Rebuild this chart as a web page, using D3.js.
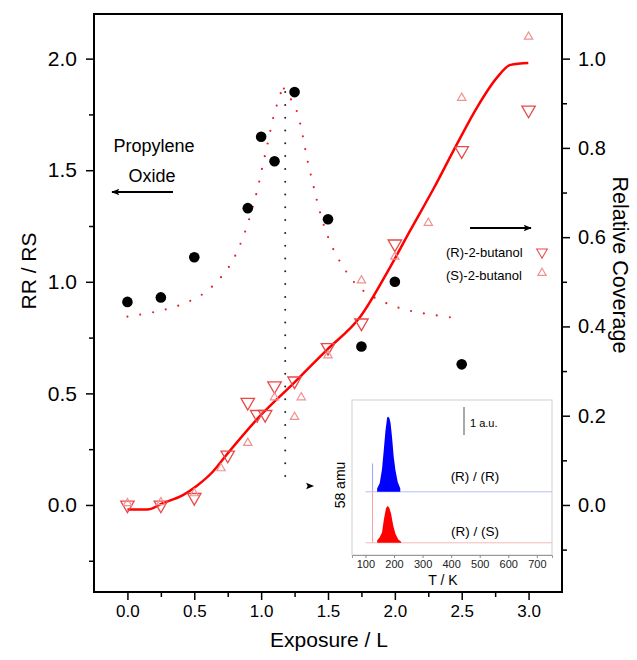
<!DOCTYPE html>
<html>
<head>
<meta charset="utf-8">
<script src="https://cdn.jsdelivr.net/npm/d3@7"></script>
<style>
  body { margin: 0; background: #fff; }
  svg { font-family: Arial, "Liberation Sans", sans-serif; }
</style>
</head>
<body>
<svg width="637" height="660"></svg>
<script>
// ---- data ----
const poX = [0, 0.25, 0.5, 0.9, 1.0, 1.1, 1.25, 1.5, 1.75, 2.0, 2.5];
const poRatio = [0.91, 0.93, 1.11, 1.33, 1.65, 1.54, 1.85, 1.28, 0.71, 1.00, 0.63];

// dotted guide curves (RR/RS)
const riseX = [0.0, 0.195, 0.385, 0.58, 0.75, 0.848, 0.915, 0.968, 1.01, 1.053, 1.095, 1.155];
const riseY = [0.844, 0.864, 0.894, 0.952, 1.059, 1.174, 1.29, 1.404, 1.517, 1.632, 1.746, 1.861];
const fallX = [1.17, 1.26, 1.308, 1.345, 1.39, 1.435, 1.498, 1.59, 1.735, 1.933, 2.123, 2.413];
const fallY = [1.866, 1.775, 1.663, 1.548, 1.433, 1.323, 1.204, 1.09, 0.974, 0.905, 0.869, 0.841];

// coverage fit
const fitX = [0.0, 0.15, 0.265, 0.415, 0.515, 0.64, 0.74, 0.99, 1.24, 1.49, 1.74, 1.965, 2.115, 2.29, 2.465, 2.615, 2.765, 2.865, 2.998];
const fitY = [-0.01, -0.01, 0.004, 0.022, 0.042, 0.075, 0.112, 0.199, 0.272, 0.347, 0.421, 0.533, 0.615, 0.709, 0.809, 0.891, 0.958, 0.986, 0.99];

const rX = [0, 0.25, 0.5, 0.75, 0.9, 0.97, 1.03, 1.1, 1.25, 1.5, 1.75, 2.0, 2.5, 3.0];
const rCov = [0.0, 0.0, 0.017, 0.112, 0.23, 0.203, 0.203, 0.267, 0.278, 0.353, 0.408, 0.585, 0.794, 0.885];
const sX = [0, 0.25, 0.5, 0.7, 0.9, 1.1, 1.25, 1.3, 1.5, 1.75, 2.0, 2.25, 2.5, 3.0];
const sCov = [0.004, 0.006, 0.026, 0.082, 0.139, 0.241, 0.197, 0.241, 0.335, 0.503, 0.556, 0.632, 0.912, 1.049];

// inset TPD traces (58 amu)
const tpdRT = [141, 150, 158, 164, 170, 176, 180, 184, 188, 193, 199, 205, 213, 222];
const tpdRI = [0.12, 0.3, 0.8, 1.45, 2.15, 2.62, 2.65, 2.6, 2.42, 1.94, 1.24, 0.77, 0.35, 0.12];
const tpdST = [141, 150, 158, 165, 172, 178, 183, 190, 197, 205, 215, 225];
const tpdSI = [0.08, 0.2, 0.36, 0.85, 1.22, 1.3, 1.25, 1.02, 0.62, 0.32, 0.12, 0.04];
const tpdOffset = 1.8;
const insetTicks = [100, 200, 300, 400, 500, 600, 700];

const xMajor = [0, 0.5, 1.0, 1.5, 2.0, 2.5, 3.0];
const xMinor = [0.25, 0.75, 1.25, 1.75, 2.25, 2.75];
const yMajor = [0, 0.5, 1.0, 1.5, 2.0];
const yMinor = [-0.25, 0.25, 0.75, 1.25, 1.75];
const covMajor = [0, 0.2, 0.4, 0.6, 0.8, 1.0];
const covMinor = [-0.1, 0.1, 0.3, 0.5, 0.7, 0.9];

// ---- layout ----
const svg = d3.select('svg');
const L = 94, R = 562, T = 14, B = 592;

const x = d3.scaleLinear().domain([-0.25, 3.25]).range([L, R]);
const yL = d3.scaleLinear().domain([-0.39, 2.2]).range([B, T]);
const yR = d3.scaleLinear().domain([-0.195, 1.1]).range([B, T]);

const defs = svg.append('defs');
defs.append('marker')
    .attr('id', 'head')
    .attr('viewBox', '0 0 10 10')
    .attr('refX', 9).attr('refY', 5)
    .attr('markerWidth', 12).attr('markerHeight', 8)
    .attr('markerUnits', 'userSpaceOnUse')
    .attr('orient', 'auto')
  .append('path')
    .attr('d', 'M0,1 L10,5 L0,9 L2,5 Z')
    .attr('fill', '#000');

function styleAxis(g, size) {
    g.select('.domain').remove();
    g.selectAll('line').attr('stroke', '#000').attr('stroke-width', 1.5);
    g.selectAll('text').attr('font-size', size).attr('fill', '#000');
}

// axes
const fmt = d3.format('.1f');
svg.append('g').attr('transform', `translate(${L},0)`)
    .call(d3.axisLeft(yL).tickValues(yMajor).tickFormat(fmt).tickSize(8).tickPadding(9))
    .call(g => styleAxis(g, 21));
svg.append('g').attr('transform', `translate(${L},0)`)
    .call(d3.axisLeft(yL).tickValues(yMinor).tickFormat('').tickSize(5))
    .call(g => styleAxis(g, 0));
svg.append('g').attr('transform', `translate(${R},0)`)
    .call(d3.axisRight(yR).tickValues(covMajor).tickFormat(fmt).tickSize(8).tickPadding(8))
    .call(g => styleAxis(g, 20));
svg.append('g').attr('transform', `translate(${R},0)`)
    .call(d3.axisRight(yR).tickValues(covMinor).tickFormat('').tickSize(5))
    .call(g => styleAxis(g, 0));
svg.append('g').attr('transform', `translate(0,${B})`)
    .call(d3.axisBottom(x).tickValues(xMajor).tickFormat(fmt).tickSize(8).tickPadding(5))
    .call(g => styleAxis(g, 17));
svg.append('g').attr('transform', `translate(0,${B})`)
    .call(d3.axisBottom(x).tickValues(xMinor).tickFormat('').tickSize(5))
    .call(g => styleAxis(g, 0));

svg.append('rect')
    .attr('x', L).attr('y', T).attr('width', R - L).attr('height', B - T)
    .attr('fill', 'none').attr('stroke', '#000').attr('stroke-width', 2);

// axis titles
svg.append('text').attr('x', 329).attr('y', 647).attr('text-anchor', 'middle')
    .attr('font-size', 21).text('Exposure / L');
svg.append('text').attr('transform', 'translate(36,271) rotate(-90)')
    .attr('text-anchor', 'middle').attr('font-size', 21).text('RR / RS');
svg.append('text').attr('transform', 'translate(613,265) rotate(90)')
    .attr('text-anchor', 'middle').attr('font-size', 21.5).text('Relative Coverage');

// dotted guide curves
const dotted = d3.line().curve(d3.curveCatmullRom)
    .x(d => x(d[0])).y(d => yL(d[1]));
[[riseX, riseY], [fallX, fallY]].forEach(([xs, ys]) => {
    svg.append('path')
        .datum(xs.map((v, i) => [v, ys[i]]))
        .attr('d', dotted)
        .attr('fill', 'none').attr('stroke', '#e8202a')
        .attr('stroke-width', 2.2).attr('stroke-linecap', 'round')
        .attr('stroke-dasharray', '0,13');
});

// vertical guide + arrow
const guideX = 1.18, guideTop = 1.85, guideBottom = 0.085, guideEnd = 1.39;
svg.append('line')
    .attr('x1', x(guideX)).attr('x2', x(guideX))
    .attr('y1', yL(guideTop)).attr('y2', yL(guideBottom))
    .attr('stroke', '#222').attr('stroke-width', 2).attr('stroke-linecap', 'round')
    .attr('stroke-dasharray', '0,12.8');
svg.append('line')
    .attr('x1', x(guideX) + 12).attr('x2', x(guideEnd))
    .attr('y1', yL(guideBottom)).attr('y2', yL(guideBottom))
    .attr('stroke', '#000').attr('stroke-width', 0)
    .attr('marker-end', 'url(#head)');

// coverage fit line
svg.append('path')
    .datum(fitX.map((v, i) => [v, fitY[i]]))
    .attr('d', d3.line().curve(d3.curveMonotoneX).x(d => x(d[0])).y(d => yR(d[1])))
    .attr('fill', 'none').attr('stroke', '#f00').attr('stroke-width', 2.5);

// triangles
const downSym = d3.symbol(d3.symbolTriangle, 78);
const upSym = d3.symbol(d3.symbolTriangle, 30);
svg.append('g').selectAll('path')
    .data(rX.map((v, i) => [v, rCov[i]]))
    .join('path')
    .attr('d', downSym)
    .attr('transform', d => `translate(${x(d[0])},${yR(d[1])}) rotate(180)`)
    .attr('fill', 'none').attr('stroke', '#e84848').attr('stroke-width', 1.3);
svg.append('g').selectAll('path')
    .data(sX.map((v, i) => [v, sCov[i]]))
    .join('path')
    .attr('d', upSym)
    .attr('transform', d => `translate(${x(d[0])},${yR(d[1])})`)
    .attr('fill', 'none').attr('stroke', '#f09090').attr('stroke-width', 1.2);

// propylene oxide points
svg.append('g').selectAll('circle')
    .data(poX.map((v, i) => [v, poRatio[i]]))
    .join('circle')
    .attr('cx', d => x(d[0])).attr('cy', d => yL(d[1]))
    .attr('r', 5.3).attr('fill', '#000');

// annotations
svg.append('text').attr('x', 154).attr('y', 152).attr('text-anchor', 'middle')
    .attr('font-size', 18).text('Propylene');
svg.append('text').attr('x', 152).attr('y', 182).attr('text-anchor', 'middle')
    .attr('font-size', 18).text('Oxide');
svg.append('line').attr('x1', 173).attr('x2', 112).attr('y1', 192).attr('y2', 192)
    .attr('stroke', '#000').attr('stroke-width', 2).attr('marker-end', 'url(#head)');
svg.append('line').attr('x1', 470).attr('x2', 531).attr('y1', 228).attr('y2', 228)
    .attr('stroke', '#000').attr('stroke-width', 2).attr('marker-end', 'url(#head)');

const legend = svg.append('g').attr('font-size', 13);
legend.append('text').attr('x', 446).attr('y', 257).text('(R)-2-butanol');
legend.append('text').attr('x', 446).attr('y', 280).text('(S)-2-butanol');
legend.append('path').attr('d', downSym)
    .attr('transform', 'translate(542,252) rotate(180) scale(0.8)')
    .attr('fill', 'none').attr('stroke', '#e84848').attr('stroke-width', 1.3);
legend.append('path').attr('d', upSym)
    .attr('transform', 'translate(542,273)')
    .attr('fill', 'none').attr('stroke', '#f09090').attr('stroke-width', 1.2);

// ---- inset ----
const iL = 352, iR = 552, iT = 400, iB = 555;
const tx = d3.scaleLinear().domain([53, 753]).range([iL, iR]);
const ty = d3.scaleLinear().domain([-0.43, 5.04]).range([iB, iT]);
const inset = svg.append('g');
inset.append('rect').attr('x', iL).attr('y', iT).attr('width', iR - iL).attr('height', iB - iT)
    .attr('fill', '#fff').attr('stroke', '#cfcfcf').attr('stroke-width', 1);
inset.append('g').attr('transform', `translate(0,${iB})`)
    .call(d3.axisBottom(tx).tickValues(insetTicks).tickSize(3).tickPadding(2))
    .call(g => {
        g.select('.domain').attr('stroke', '#999');
        g.selectAll('line').attr('stroke', '#888');
        g.selectAll('text').attr('font-size', 11).attr('fill', '#222');
    });
inset.append('text').attr('x', 443).attr('y', 585).attr('text-anchor', 'middle')
    .attr('font-size', 14).text('T / K');
inset.append('text').attr('transform', 'translate(345,485) rotate(-90)')
    .attr('text-anchor', 'middle').attr('font-size', 14).text('58 amu');

// baselines
[[tpdOffset, '#b8bcff'], [0, '#f6b8b8']].forEach(([off, c]) => {
    inset.append('line').attr('x1', tx(100)).attr('x2', iR)
        .attr('y1', ty(off)).attr('y2', ty(off))
        .attr('stroke', c).attr('stroke-width', 1);
});
// low-T spikes
inset.append('line').attr('x1', tx(125)).attr('x2', tx(125))
    .attr('y1', ty(tpdOffset)).attr('y2', ty(tpdOffset + 1.0))
    .attr('stroke', '#9aa0ff').attr('stroke-width', 1);
inset.append('line').attr('x1', tx(125)).attr('x2', tx(125))
    .attr('y1', ty(0)).attr('y2', ty(1.86))
    .attr('stroke', '#f4a0a0').attr('stroke-width', 1);

const area = off => d3.area().curve(d3.curveLinear)
    .x(d => tx(d[0])).y0(ty(off)).y1(d => ty(off + d[1]));
inset.append('path')
    .datum(tpdRT.map((v, i) => [v, tpdRI[i]]))
    .attr('d', area(tpdOffset)).attr('fill', '#0000ff');
inset.append('path')
    .datum(tpdST.map((v, i) => [v, tpdSI[i]]))
    .attr('d', area(0)).attr('fill', '#ff0000');

inset.append('text').attr('x', 475).attr('y', 481).attr('text-anchor', 'middle')
    .attr('font-size', 13.5).text('(R) / (R)');
inset.append('text').attr('x', 475).attr('y', 536).attr('text-anchor', 'middle')
    .attr('font-size', 13.5).text('(R) / (S)');
inset.append('line').attr('x1', 464).attr('x2', 464).attr('y1', 407).attr('y2', 435)
    .attr('stroke', '#555').attr('stroke-width', 1);
inset.append('text').attr('x', 470).attr('y', 427).attr('font-size', 11).text('1 a.u.');
</script>
</body>
</html>
